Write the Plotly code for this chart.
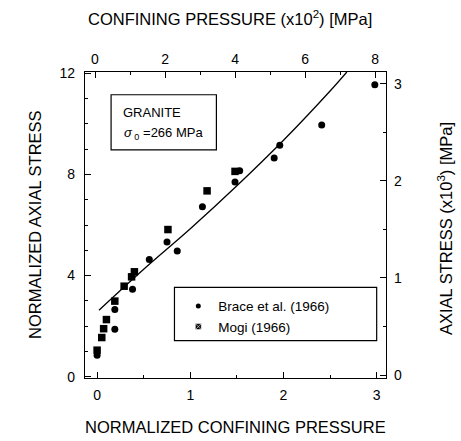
import plotly.graph_objects as go

# Brace et al. (1966) - normalized confining pressure / normalized axial stress
brace_x = [0.00, 0.19, 0.19, 0.38, 0.56, 0.75, 0.86, 1.13, 1.48, 1.53, 1.90, 1.96, 2.41, 2.98]
brace_y = [0.85, 1.88, 2.66, 3.46, 4.64, 5.33, 4.97, 6.72, 7.70, 8.15, 8.65, 9.15, 9.95, 11.55]

# Mogi (1966)
mogi_x = [0.00, 0.05, 0.07, 0.10, 0.19, 0.29, 0.37, 0.40, 0.76, 1.18, 1.48]
mogi_y = [1.05, 1.55, 1.90, 2.26, 2.99, 3.58, 3.95, 4.15, 5.82, 7.35, 8.12]

# fitted curve
curve_x = [0.02, 0.50, 1.00, 1.50, 2.00, 2.50, 2.68]
curve_y = [2.63, 4.25, 5.85, 7.55, 9.35, 11.30, 12.05]

bottom_ticks = [0, 1, 2, 3]
left_ticks = [0, 4, 8, 12]
top_ticks = [0, 2, 4, 6, 8]
right_ticks = [0, 1, 2, 3]

FONT = "Liberation Sans, Arial, Helvetica, sans-serif"

fig = go.Figure()

fig.add_trace(go.Scatter(x=curve_x, y=curve_y, mode="lines",
                         line=dict(color="black", width=1.3, shape="spline"),
                         showlegend=False, hoverinfo="skip"))
fig.add_trace(go.Scatter(x=brace_x, y=brace_y, mode="markers",
                         marker=dict(symbol="circle", size=7, color="black"),
                         showlegend=False))
fig.add_trace(go.Scatter(x=mogi_x, y=mogi_y, mode="markers",
                         marker=dict(symbol="square", size=7.5, color="black"),
                         showlegend=False))
# legend-only entries (smaller markers as in the original legend)
fig.add_trace(go.Scatter(x=[None], y=[None], mode="markers", name="Brace et al. (1966)",
                         marker=dict(symbol="circle", size=5, color="black")))
fig.add_trace(go.Scatter(x=[None], y=[None], mode="markers", name="Mogi (1966)",
                         marker=dict(symbol="square-x", size=6, color="black",
                                     line=dict(color="white", width=0.6))))
# invisible traces to activate secondary axes
fig.add_trace(go.Scatter(x=[None], y=[None], xaxis="x2", yaxis="y", showlegend=False))
fig.add_trace(go.Scatter(x=[None], y=[None], xaxis="x", yaxis="y2", showlegend=False))

axis_common = dict(showline=True, linecolor="black", linewidth=1.2, ticks="inside",
                   ticklen=6, tickcolor="black", tickwidth=1, showgrid=False,
                   zeroline=False, tickfont=dict(family=FONT, size=14, color="black"),
                   mirror=False)

fig.update_layout(
    width=461, height=441,
    margin=dict(l=85, r=75, t=72, b=63),
    paper_bgcolor="white", plot_bgcolor="white",
    font=dict(family=FONT, color="black"),
    xaxis=dict(range=[-0.13, 3.10], tickvals=bottom_ticks, side="bottom",
               minor=dict(dtick=0.5, tick0=0, ticklen=3, ticks="inside", tickcolor="black"),
               ticklabelstandoff=4, **axis_common),
    xaxis2=dict(range=[-0.286, 8.31], tickvals=top_ticks, side="top", overlaying="x",
                minor=dict(dtick=1, tick0=0, ticklen=3, ticks="inside", tickcolor="black"),
                ticklabelstandoff=1, **axis_common),
    yaxis=dict(range=[-0.05, 12.05], tickvals=left_ticks, side="left",
               minor=dict(dtick=1, tick0=0, ticklen=3, ticks="inside", tickcolor="black"),
               ticklabelstandoff=6, **axis_common),
    yaxis2=dict(range=[-0.03, 3.12], tickvals=right_ticks, side="right", overlaying="y",
                minor=dict(dtick=0.5, tick0=0, ticklen=3, ticks="inside", tickcolor="black"),
                ticklabelstandoff=4, **axis_common),
    legend=dict(x=0.31, y=0.285, xanchor="left", yanchor="top",
                bgcolor="rgba(0,0,0,0)", borderwidth=0,
                font=dict(family=FONT, size=13.5, color="black"),
                itemwidth=30, tracegroupgap=2),
    showlegend=True,
)

# boxes
fig.add_shape(type="rect", xref="x", yref="y", x0=0.15, x1=1.28, y0=8.97, y1=11.15,
              line=dict(color="black", width=1.2), fillcolor="rgba(0,0,0,0)")
fig.add_shape(type="rect", xref="x", yref="y", x0=0.83, x1=3.00, y0=1.43, y1=3.53,
              line=dict(color="black", width=1.2), fillcolor="rgba(0,0,0,0)")

# box text
fig.add_annotation(text="GRANITE", xref="x", yref="y", x=0.26, y=10.45,
                   xanchor="left", yanchor="middle", showarrow=False,
                   font=dict(family=FONT, size=13, color="black"))
fig.add_annotation(text="<i>σ</i><sub> 0</sub> =266 MPa", xref="x", yref="y", x=0.27, y=9.6,
                   xanchor="left", yanchor="middle", showarrow=False,
                   font=dict(family=FONT, size=13, color="black"))

# axis titles
fig.add_annotation(text="CONFINING PRESSURE (x10<sup>2</sup>) [MPa]", xref="paper", yref="paper",
                   x=0.482, y=1.176, showarrow=False, xanchor="center", yanchor="middle",
                   font=dict(family=FONT, size=16.5, color="black"))
fig.add_annotation(text="NORMALIZED CONFINING PRESSURE", xref="paper", yref="paper",
                   x=0.5, y=-0.16, showarrow=False, xanchor="center", yanchor="middle",
                   font=dict(family=FONT, size=16.5, color="black"))
fig.add_annotation(text="NORMALIZED AXIAL STRESS", xref="paper", yref="paper",
                   x=-0.166, y=0.5, showarrow=False, textangle=-90,
                   xanchor="center", yanchor="middle",
                   font=dict(family=FONT, size=16.5, color="black"))
fig.add_annotation(text="AXIAL STRESS (x10<sup>3</sup>) [MPa]", xref="paper", yref="paper",
                   x=1.196, y=0.49, showarrow=False, textangle=-90,
                   xanchor="center", yanchor="middle",
                   font=dict(family=FONT, size=16.5, color="black"))

fig.write_html(
    "out.html",
    config={"displayModeBar": False},
    post_script="document.body.style.margin='0';document.body.style.padding='0';"
                "document.body.style.overflow='hidden';"
                "document.documentElement.style.overflow='hidden';",
)
